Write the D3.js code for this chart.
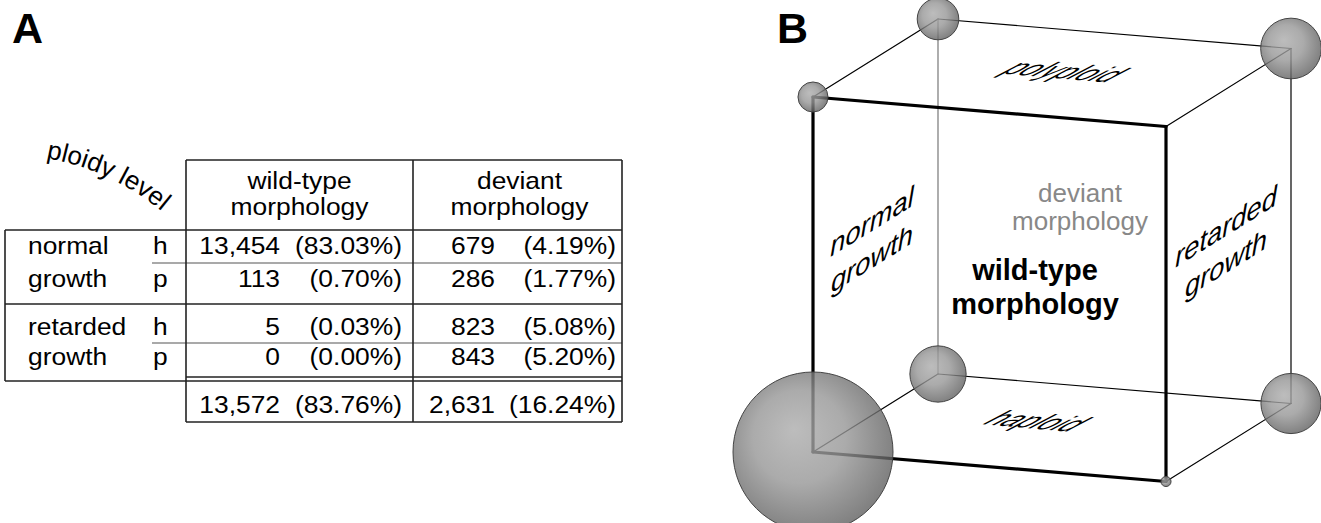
<!DOCTYPE html>
<html>
<head>
<meta charset="utf-8">
<script src="https://cdn.jsdelivr.net/npm/d3@7"></script>
<style>
  body { margin: 0; background: #fff; }
  svg { display: block; font-family: "Liberation Sans", Arial, sans-serif; }
</style>
</head>
<body>
<svg id="fig" width="1321" height="523"></svg>
<script>
// ---- data ----
const growthLabels = ["normal", "retarded"];
const ploidyLabels = ["h", "p"];          // haploid, polyploid
const morphHeaders = [["wild-type", "morphology"], ["deviant", "morphology"]];
// rows: normal h, normal p, retarded h, retarded p
const wildType = [13454, 113, 5, 0];
const deviant = [679, 286, 823, 843];
const faceTop = "polyploid";
const faceBottom = "haploid";
const faceLeft = ["normal", "growth"];
const faceRight = ["retarded", "growth"];
const faceFront = ["wild-type", "morphology"];
const faceBack = ["deviant", "morphology"];

const svg = d3.select("#fig");
const fmtN = d3.format(",");
const fmtP = d3.format(".2%");
const total = d3.sum(wildType) + d3.sum(deviant);

// ---------------- Panel A: table ----------------
const A = svg.append("g").attr("font-size", 24).attr("fill", "#000");
const sx = 1.1; // glyphs are a little wide in the original

svg.append("text").attr("x", 12).attr("y", 43)
  .attr("font-size", 43).attr("font-weight", "bold").text("A");

const col = { left: 5, c1: 186, c2: 413, right: 622, hp: 152 };
const line = { head: 160, top: 230, mid: 304, bot: 381, sep1: 263, sep2: 343, tTop: 377, tBot: 422 };

const rowY = d3.scaleOrdinal().domain([0, 1, 2, 3]).range([254, 287, 335, 365]);
const totalY = 413;

function tt(x, y, str, anchor) {
  A.append("text")
    .attr("transform", `translate(${x},${y}) scale(${sx},1)`)
    .attr("text-anchor", anchor)
    .text(str);
}

// lines
const L = A.append("g").attr("stroke", "#222").attr("stroke-width", 1.6).attr("fill", "none");
function ln(x1, y1, x2, y2, c, w) {
  L.append("line").attr("x1", x1).attr("y1", y1).attr("x2", x2).attr("y2", y2)
    .attr("stroke", c || null).attr("stroke-width", w || null);
}
ln(col.c1, line.head, col.right, line.head);
ln(col.left, line.top, col.right, line.top);
ln(col.left, line.mid, col.right, line.mid);
ln(col.left, line.bot, col.right, line.bot);
ln(col.hp, line.sep1, col.right, line.sep1, "#555", 1.2);
ln(col.hp, line.sep2, col.right, line.sep2, "#555", 1.2);
ln(col.left, line.top, col.left, line.bot);
ln(col.c1, line.head, col.c1, line.tBot);
ln(col.c2, line.head, col.c2, line.tBot);
ln(col.right, line.head, col.right, line.tBot);
ln(col.c1, line.tTop, col.right, line.tTop);
ln(col.c1, line.tBot, col.right, line.tBot);

// header
const headX = [(col.c1 + col.c2) / 2, (col.c2 + col.right) / 2 + 2];
morphHeaders.forEach((h, i) => {
  tt(headX[i], 189, h[0], "middle");
  tt(headX[i], 215, h[1], "middle");
});

// curved "ploidy level"
A.append("path").attr("id", "ploidyArc").attr("fill", "none")
  .attr("d", "M 46 158 A 250 250 0 0 1 178 226");
A.append("text").attr("font-size", 26)
  .append("textPath").attr("href", "#ploidyArc").text("ploidy level");

// body rows
const numX = [280, 495];
const pctX = [402, 616];
wildType.forEach((v, i) => {
  const y = rowY(i);
  const g = Math.floor(i / 2);
  tt(28, y, i % 2 === 0 ? growthLabels[g] : "growth", "start");
  tt(153, y, ploidyLabels[i % 2], "start");
  [v, deviant[i]].forEach((n, c) => {
    tt(numX[c], y, fmtN(n), "end");
    tt(pctX[c], y, "(" + fmtP(n / total) + ")", "end");
  });
});
[d3.sum(wildType), d3.sum(deviant)].forEach((n, c) => {
  tt(numX[c], totalY, fmtN(n), "end");
  tt(pctX[c], totalY, "(" + fmtP(n / total) + ")", "end");
});

// ---------------- Panel B: cube ----------------
svg.append("text").attr("x", 777).attr("y", 43)
  .attr("font-size", 43).attr("font-weight", "bold").text("B");

// oblique projection: growth -> right, ploidy -> up, morphology -> back
const gx = d3.scaleLinear().domain([0, 1]).range([813, 1166]);
const gy = d3.scaleLinear().domain([0, 1]).range([0, 29.5]);
const py = d3.scaleLinear().domain([0, 1]).range([452, 97]);
const mx = d3.scaleLinear().domain([0, 1]).range([0, 125]);
const my = d3.scaleLinear().domain([0, 1]).range([0, -78]);
const proj = (g, p, m) => [gx(g) + mx(m), py(p) + gy(g) + my(m)];

const r = d3.scalePow().exponent(0.35).domain([0, d3.max(wildType)]).range([0, 80]);

const verts = [];
[wildType, deviant].forEach((arr, m) => {
  arr.forEach((n, i) => verts.push({ g: Math.floor(i / 2), p: i % 2, m: m, n: n }));
});

const edges = [];
verts.forEach(a => verts.forEach(b => {
  const diff = (a.g !== b.g) + (a.p !== b.p) + (a.m !== b.m);
  if (diff === 1 && (a.g + a.p * 2 + a.m * 4) < (b.g + b.p * 2 + b.m * 4)) edges.push([a, b]);
}));

const B = svg.append("g");
B.selectAll("line.edge")
  .data(edges)
  .enter().append("line")
  .attr("class", "edge")
  .attr("x1", d => proj(d[0].g, d[0].p, d[0].m)[0])
  .attr("y1", d => proj(d[0].g, d[0].p, d[0].m)[1])
  .attr("x2", d => proj(d[1].g, d[1].p, d[1].m)[0])
  .attr("y2", d => proj(d[1].g, d[1].p, d[1].m)[1])
  .attr("stroke", d => (d[0].m === 1 && d[1].m === 1 && d[0].g === 0 && d[1].g === 0) ? "#777" : "#000")
  .attr("stroke-width", d => (d[0].m === 0 && d[1].m === 0) ? 3.2 : 1.2)
  .attr("stroke-linecap", "round")
  .sort((a, b) => (a[0].m + a[1].m === 0) - (b[0].m + b[1].m === 0));

// face labels
const depth = [mx(1) - mx(0), my(1) - my(0)];
const dl = Math.hypot(depth[0], depth[1]);
const du = [depth[0] / dl, depth[1] / dl];
const gslope = (gy(1) - gy(0)) / (gx(1) - gx(0));

function flatText(cx, cy, str) {
  const k1 = 0.97, k2 = 1.36;
  B.append("text")
    .attr("transform", `matrix(${k1},${k1 * gslope},${-du[0] * k2},${-du[1] * k2},${cx},${cy})`)
    .attr("text-anchor", "middle").attr("font-size", 28).attr("font-style", "italic")
    .text(str);
}
flatText(1054, 78, faceTop);
flatText(1026, 428, faceBottom);

function sideText(cx, cy, lines) {
  const k1 = 1.15, k2 = 1;
  lines.forEach((s, i) => {
    B.append("text")
      .attr("transform", `matrix(${du[0] * k1},${du[1] * k1},0,${k2},${cx},${cy + i * 37})`)
      .attr("text-anchor", "middle").attr("font-size", 28).attr("font-style", "italic")
      .text(s);
  });
}
sideText(872, 231, faceLeft);
sideText(1226, 236, faceRight);

faceBack.forEach((s, i) => {
  B.append("text").attr("x", 1080).attr("y", 202 + i * 28)
    .attr("text-anchor", "middle").attr("font-size", 26).attr("fill", "#888").text(s);
});
faceFront.forEach((s, i) => {
  B.append("text").attr("x", 1035).attr("y", 280 + i * 34)
    .attr("text-anchor", "middle").attr("font-size", 29).attr("font-weight", "bold").text(s);
});

// spheres
const defs = svg.append("defs");
const grad = defs.append("radialGradient").attr("id", "ball")
  .attr("cx", "45%").attr("cy", "45%").attr("r", "58%").attr("fx", "38%").attr("fy", "36%");
grad.append("stop").attr("offset", "0%").attr("stop-color", "#acacac");
grad.append("stop").attr("offset", "50%").attr("stop-color", "#969696");
grad.append("stop").attr("offset", "100%").attr("stop-color", "#5e5e5e");

B.selectAll("circle.ball")
  .data(verts.filter(d => d.n > 0))
  .enter().append("circle")
  .attr("class", "ball")
  .attr("cx", d => proj(d.g, d.p, d.m)[0])
  .attr("cy", d => proj(d.g, d.p, d.m)[1])
  .attr("r", d => r(d.n))
  .attr("fill", "url(#ball)")
  .attr("fill-opacity", 0.8)
  .attr("stroke", "#444")
  .attr("stroke-width", 1);
</script>
</body>
</html>
